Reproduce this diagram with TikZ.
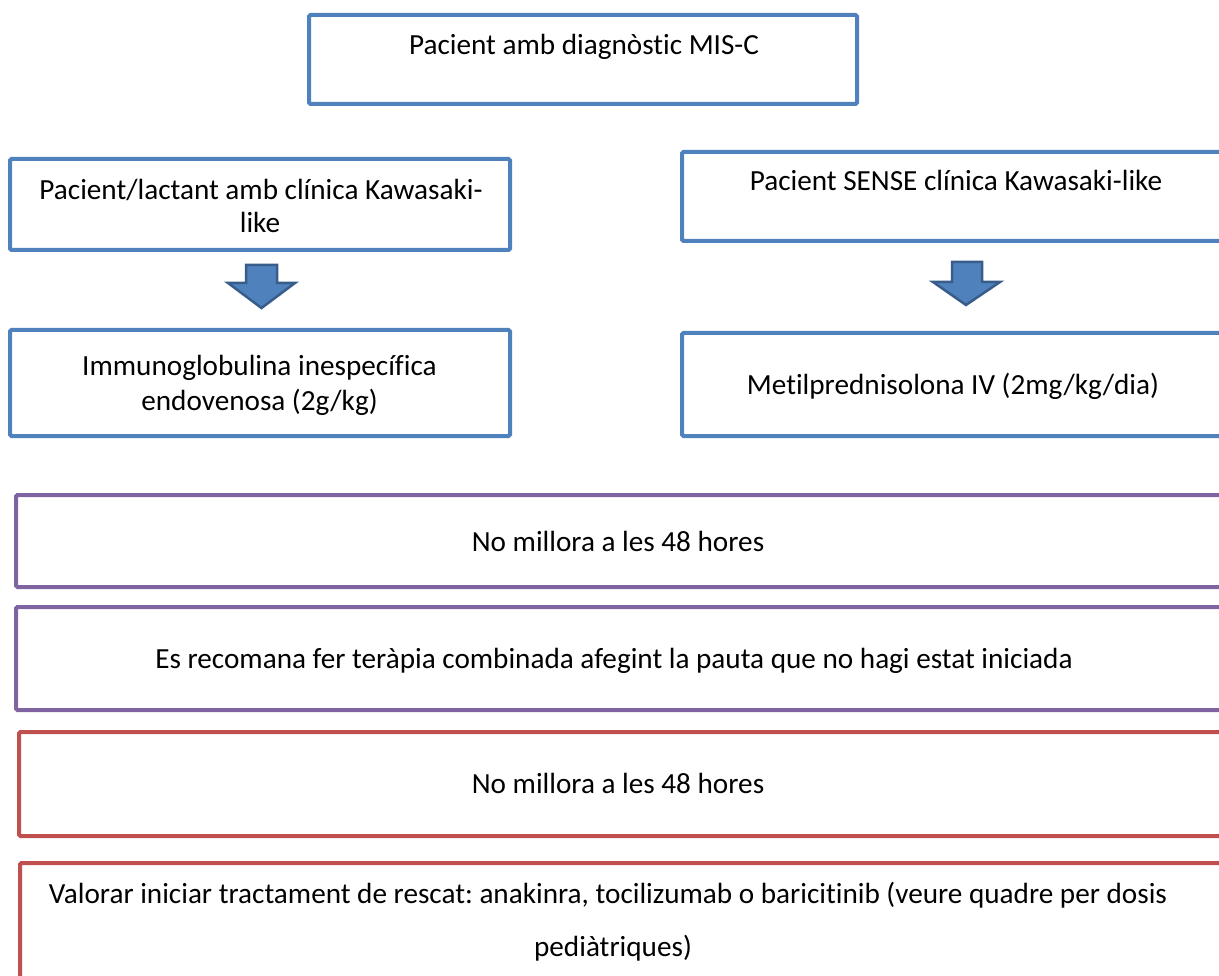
\documentclass[tikz,border=0pt]{standalone}
\usepackage{fontspec}
\setmainfont{Carlito}[Ligatures=NoCommon, RawFeature={-liga;-clig}]
\frenchspacing
\definecolor{boxblue}{HTML}{4F81BD}
\definecolor{arrowline}{HTML}{385D8A}
\definecolor{boxpurple}{HTML}{8064A2}
\definecolor{boxred}{HTML}{C0504D}
\begin{document}
\begin{tikzpicture}[x=1pt,y=-1pt,
  frame/.style={draw, line width=4pt, rounded corners=1.5pt, inner sep=0pt, outer sep=0pt, rectangle},
  bluebox/.style={frame, draw=boxblue},
  purplebox/.style={frame, draw=boxpurple},
  redbox/.style={frame, draw=boxred},
  lbl/.style={anchor=base, inner sep=0pt, font=\fontsize{29.2}{35}\selectfont, text=black},
  blockarrow/.style={fill=boxblue, draw=arrowline, line width=2.5pt, line join=miter}]
\useasboundingbox (0,0) rectangle (1219,976);
\clip (0,0) rectangle (1219,976);
% boxes
\node[bluebox, minimum width=548pt, minimum height=89pt] (top) at (583,59.5) {};
\node[bluebox, minimum width=500pt, minimum height=91pt] (kaw) at (260,204.5) {};
\node[bluebox, minimum width=558pt, minimum height=89pt] (sense) at (961,196.5) {};
\node[bluebox, minimum width=500pt, minimum height=106pt] (igiv) at (260,383) {};
\node[bluebox, minimum width=558pt, minimum height=103pt] (metil) at (961,384.5) {};
\node[purplebox, minimum width=1224pt, minimum height=92pt] (nm1) at (628,541) {};
\node[purplebox, minimum width=1224pt, minimum height=103pt] (comb) at (628,658.5) {};
\node[redbox, minimum width=1221pt, minimum height=104pt] (nm2) at (629.5,784) {};
\node[redbox, minimum width=1220pt, minimum height=137pt] (resc) at (630,931.5) {};
% texts
\node[lbl] (ttop) at (584,55) {Pacient amb diagnòstic MIS-C};
\node[lbl] (tkaw1) at (261,200) {Pacient/lactant amb clínica Kawasaki-};
\node[lbl] (tkaw2) at (260,233) {like};
\node[lbl] (tsense) at (956,191) {Pacient SENSE clínica Kawasaki-like};
\node[lbl] (tig1) at (259.5,376) {Immunoglobulina inespecífica};
\node[lbl] (tig2) at (259.5,410) {endovenosa (2g/kg)};
\node[lbl] (tmetil) at (953,395) {Metilprednisolona IV (2mg/kg/dia)};
\node[lbl] (tnm1) at (618,551) {No millora a les 48 hores};
\node[lbl] (tcomb) at (614,668) {Es recomana fer teràpia combinada afegint la pauta que no hagi estat iniciada};
\node[lbl] (tnm2) at (618,793) {No millora a les 48 hores};
\node[lbl] (tresc1) at (608,903) {Valorar iniciar tractament de rescat: anakinra, tocilizumab o baricitinib (veure quadre per dosis};
\node[lbl] (tresc2) at (613,956) {pediàtriques)};
% block arrows
\draw[blockarrow] (246,265) -- (277,265) -- (277,283) -- (295,283) -- (261.5,308) -- (228,283) -- (246,283) -- cycle;
\draw[blockarrow] (952,262) -- (982,262) -- (982,282) -- (1000,282) -- (966,305) -- (933,282) -- (952,282) -- cycle;
\end{tikzpicture}
\end{document}
